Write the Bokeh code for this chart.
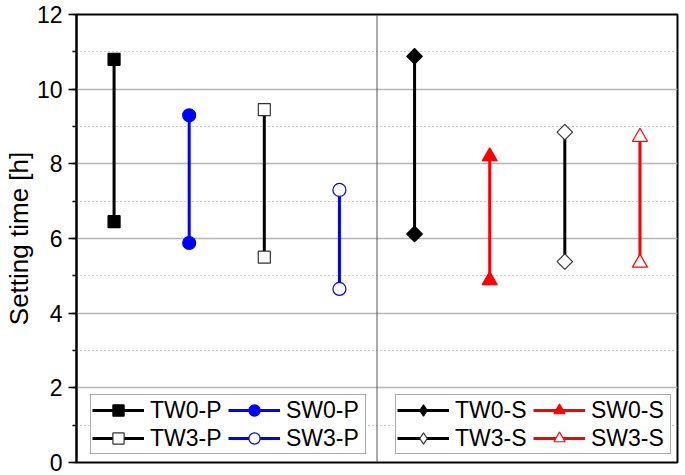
from bokeh.plotting import figure
from bokeh.models import (ColumnDataSource, Legend, LegendItem, Span,
                          SingleIntervalTicker, Range1d)
from bokeh.embed import file_html
from bokeh.resources import INLINE

# ---- data ----
names = ["TW0-P", "SW0-P", "TW3-P", "SW3-P", "TW0-S", "SW0-S", "TW3-S", "SW3-S"]
group_pos = [1, 2, 3, 4, 5, 6, 7, 8]
low_h = [6.45, 5.88, 5.50, 4.65, 6.12, 4.88, 5.38, 5.35]
high_h = [10.80, 9.30, 9.45, 7.30, 10.88, 8.20, 8.85, 8.72]
divider = 4.5
y_ticks_interval = 2

# ---- styles ----
line_colors = ["black", "blue", "black", "blue", "black", "red", "black", "red"]
edge_colors = ["black", "blue", "#333333", "blue", "black", "red", "#333333", "red"]
fill_colors = ["black", "blue", "white", "white", "black", "red", "white", "white"]
plot_markers = ["square", "circle", "square", "circle", "square", "triangle", "square", "triangle"]
plot_angles = [0, 0, 0, 0, 0.7854, 0, 0.7854, 0]
plot_sizes = [12, 13, 12, 13, 11, 15, 11, 15]
legend_markers = ["square", "circle", "square", "circle", "diamond", "triangle", "diamond", "triangle"]

FONT = "Liberation Sans"
NAN = float("nan")

p = figure(width=685, height=475, output_backend="svg", toolbar_location=None,
           x_range=Range1d(0.5, 8.5), y_range=Range1d(0, 12),
           x_axis_location=None,
           min_border_top=14, min_border_bottom=13, min_border_right=8,
           min_border_left=74)

p.outline_line_color = "black"
p.outline_line_width = 2
p.outline_line_alpha = 1
p.xgrid.visible = False

ticker = SingleIntervalTicker(interval=y_ticks_interval, num_minor_ticks=2)
p.yaxis.ticker = ticker
p.ygrid.ticker = ticker
p.yaxis.axis_label = "Setting time [h]"
p.yaxis.axis_label_text_font = FONT
p.yaxis.axis_label_text_font_size = "26px"
p.yaxis.axis_label_text_font_style = "normal"
p.yaxis.axis_label_text_color = "black"
p.yaxis.axis_label_standoff = 0
p.yaxis.major_label_text_font = FONT
p.yaxis.major_label_text_font_size = "23px"
p.yaxis.major_label_text_color = "black"
p.yaxis.major_label_standoff = 6
p.yaxis.axis_line_width = 2
p.yaxis.axis_line_color = "black"
p.yaxis.major_tick_line_color = "black"
p.yaxis.minor_tick_line_color = "black"
p.yaxis.major_tick_line_width = 1.5
p.yaxis.minor_tick_line_width = 1.5
p.yaxis.major_tick_out = 8
p.yaxis.major_tick_in = 0
p.yaxis.minor_tick_out = 4
p.yaxis.minor_tick_in = 0

p.ygrid.grid_line_color = "#b4b4b4"
p.ygrid.grid_line_width = 1.5
p.ygrid.minor_grid_line_color = "#9a9a9a"
p.ygrid.minor_grid_line_width = 1
p.ygrid.minor_grid_line_dash = "1 3"

p.add_layout(Span(location=divider, dimension="height", line_color="#555555", line_width=1))

items = []
for i, name in enumerate(names):
    src = ColumnDataSource(dict(x=[group_pos[i]], lo=[low_h[i]], hi=[high_h[i]]))
    seg = p.segment(x0="x", y0="lo", x1="x", y1="hi", source=src,
                    line_color=line_colors[i], line_width=3)
    for col in ("lo", "hi"):
        p.scatter(x="x", y=col, source=src, marker=plot_markers[i],
                  size=plot_sizes[i], angle=plot_angles[i],
                  fill_color=fill_colors[i], line_color=edge_colors[i], line_width=1.2)
    leg = p.scatter(x=[NAN], y=[NAN], marker=legend_markers[i], size=plot_sizes[i],
                    fill_color=fill_colors[i], line_color=edge_colors[i], line_width=1.2)
    items.append(LegendItem(label=name, renderers=[seg, leg]))


def make_legend(its, loc):
    # legend fills column-first: reorder so rows read TW0 SW0 / TW3 SW3
    ordered = [its[0], its[2], its[1], its[3]]
    lg = Legend(items=ordered, ncols=2, location=loc,
                label_text_font=FONT, label_text_font_size="23px",
                label_text_color="black",
                glyph_width=52, glyph_height=28, label_height=27, label_width=78,
                label_standoff=6, spacing=0, padding=1, margin=0,
                border_line_color="#555555", border_line_width=1,
                background_fill_color="white", background_fill_alpha=1)
    return lg


p.add_layout(make_legend(items[:4], (14, 8)))
p.add_layout(make_legend(items[4:], (319, 8)))

open("out.html", "w").write(file_html(p, INLINE))
